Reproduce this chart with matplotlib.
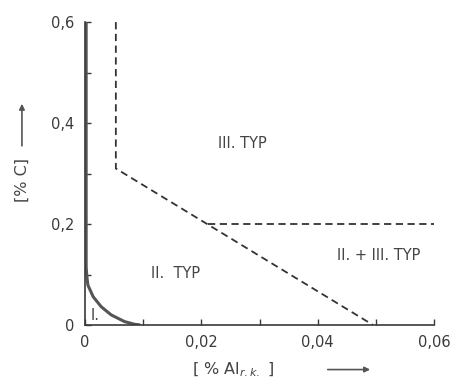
import matplotlib
matplotlib.use("Agg")
import matplotlib.pyplot as plt

# Boundary of type I region (solid curve)
al_type1 = [0.0002, 0.0002, 0.0003, 0.0005, 0.0014, 0.0028, 0.0045, 0.0068, 0.0085, 0.0095]
c_type1 = [0.60, 0.115, 0.098, 0.079, 0.056, 0.036, 0.020, 0.0067, 0.0015, 0.0]

# Boundary of type III region (dashed polyline)
al_type3 = [0.0053, 0.0053, 0.0495]
c_type3 = [0.60, 0.31, 0.0]

# Boundary of mixed II + III region (dashed horizontal)
al_mixed = [0.0212, 0.060]
c_mixed = [0.20, 0.20]

x_ticks = [0, 0.02, 0.04, 0.06]
x_labels = ["0", "0,02", "0,04", "0,06"]
y_ticks = [0, 0.2, 0.4, 0.6]
y_labels = ["0", "0,2", "0,4", "0,6"]

ink = "#3a3a3a"
plt.rcParams["font.family"] = ["DejaVu Sans"]

fig = plt.figure(figsize=(4.57, 3.81), dpi=100)
ax = fig.add_axes([0.186, 0.147, 0.764, 0.795])
ax.set_xlim(0, 0.06)
ax.set_ylim(0, 0.6)

ax.plot(al_type1, c_type1, color="#555555", lw=2.2, solid_capstyle="butt",
        solid_joinstyle="round")
ax.plot(al_type3, c_type3, color="#333333", lw=1.3, ls=(0, (4, 2.5)))
ax.plot(al_mixed, c_mixed, color="#333333", lw=1.3, ls=(0, (4, 2.5)))

for s in ("top", "right"):
    ax.spines[s].set_visible(False)
for s in ("left", "bottom"):
    ax.spines[s].set_color(ink)
    ax.spines[s].set_linewidth(1.2)

ax.set_xticks(x_ticks)
ax.set_xticklabels(x_labels)
ax.set_yticks(y_ticks)
ax.set_yticklabels(y_labels)
ax.set_xticks([0.01, 0.03, 0.05], minor=True)
ax.set_yticks([0.1, 0.3, 0.5], minor=True)
ax.tick_params(axis="both", which="both", direction="in", length=4,
               color=ink, labelsize=10.5, labelcolor=ink, width=1)
ax.tick_params(axis="x", pad=7)
ax.tick_params(axis="y", pad=8)

txt = dict(color="#444444", fontsize=10.5, ha="center", va="center")
ax.text(0.027, 0.36, "III. TYP", **txt)
ax.text(0.0155, 0.102, "II.  TYP", **txt)
ax.text(0.0505, 0.138, "II. + III. TYP", **txt)
ax.text(0.0017, 0.018, "I.", **txt)

fig.text(0.51, 0.03, "[ % Al$_{r.k.}$ ]", color="#444444", fontsize=11.5,
         ha="center", va="center")
arrow = dict(arrowstyle="-|>", color="#555555", lw=1.2, mutation_scale=8)
ax.annotate("", xy=(0.816, 0.03), xytext=(0.711, 0.03),
            xycoords="figure fraction", textcoords="figure fraction",
            arrowprops=arrow, annotation_clip=False)
fig.text(0.048, 0.527, "[% C]", color="#444444", fontsize=11.5,
         rotation=90, ha="center", va="center")
ax.annotate("", xy=(0.048, 0.735), xytext=(0.048, 0.61),
            xycoords="figure fraction", textcoords="figure fraction",
            arrowprops=arrow, annotation_clip=False)

fig.savefig("out.png", dpi=100, facecolor="white")
